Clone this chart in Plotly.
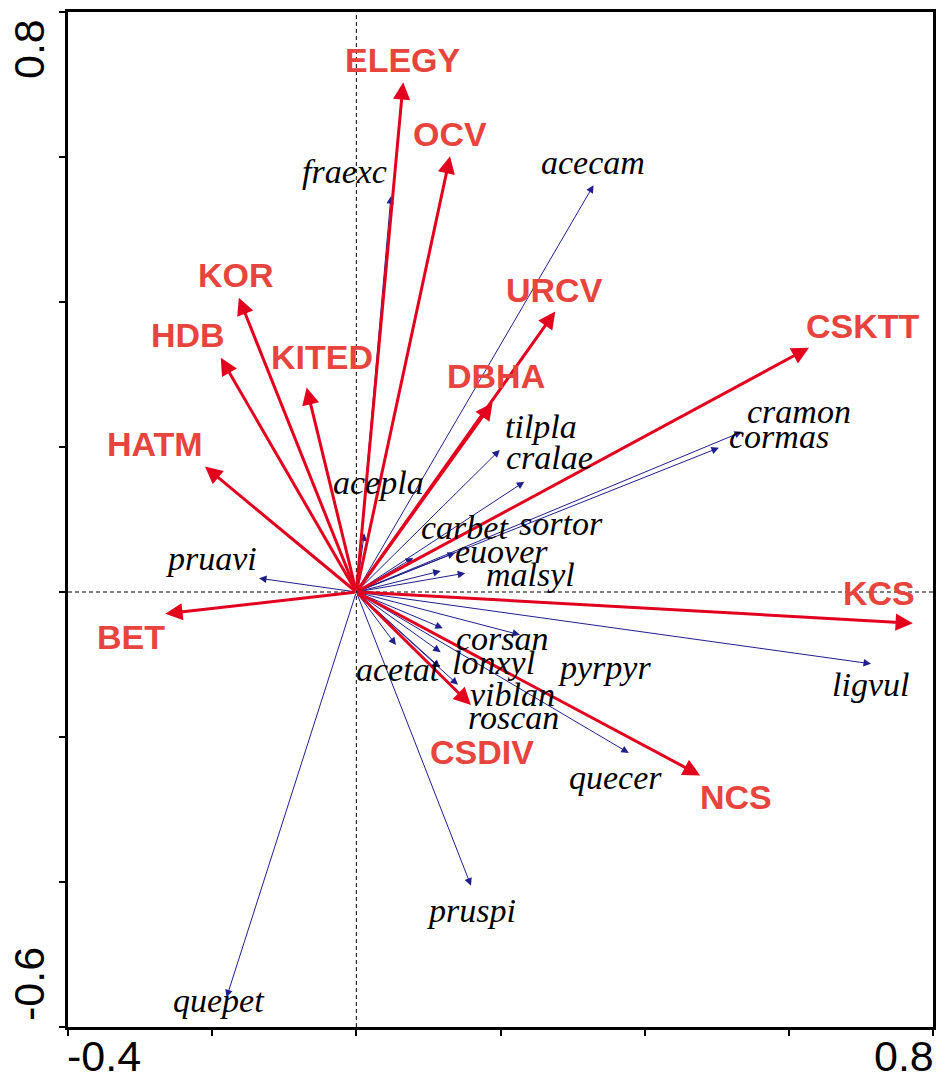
import plotly.graph_objects as go

# ---------------- data ----------------
# Environmental variables (red arrows): ordination scores on axis 1 / axis 2
env_names = ["ELEGY", "OCV", "KOR", "HDB", "KITED", "HATM", "BET",
             "URCV", "DBHA", "CSKTT", "KCS", "CSDIV", "NCS"]
env_x = [0.065, 0.130, -0.163, -0.188, -0.069, -0.210, -0.265,
         0.276, 0.189, 0.628, 0.772, 0.159, 0.477]
env_y = [0.703, 0.601, 0.406, 0.323, 0.282, 0.173, -0.030,
         0.387, 0.261, 0.337, -0.043, -0.156, -0.253]

# Species (blue arrows)
sp_names = ["fraexc", "acecam", "tilpla", "cralae", "cramon", "cormas", "acepla",
            "carbet", "euover", "sortor", "malsyl", "pruavi", "ligvul", "corsan",
            "pyrpyr", "acetat", "lonxyl", "roscan", "viblan", "quecer", "pruspi", "quepet"]
sp_x = [0.048, 0.329, 0.199, 0.233, 0.535, 0.503, 0.011,
        0.079, 0.117, 0.137, 0.151, -0.135, 0.714, 0.120,
        0.227, 0.055, 0.117, 0.116, 0.141, 0.378, 0.159, -0.180]
sp_y = [0.546, 0.561, 0.196, 0.152, 0.221, 0.199, 0.081,
        0.047, 0.029, 0.054, 0.026, 0.019, -0.099, -0.050,
        -0.059, -0.073, -0.083, -0.104, -0.128, -0.222, -0.405, -0.559]

x_ticks = [-0.4, -0.2, 0.0, 0.2, 0.4, 0.6, 0.8]
y_ticks = [-0.6, -0.4, -0.2, 0.0, 0.2, 0.4, 0.6, 0.8]
x_range = [-0.4, 0.8]
y_range = [-0.6, 0.8]

# ---------------- layout / style (label offsets in px from arrow tip) ----------------
env_label_shift = {
    "ELEGY": (0, 22), "OCV": (0, 22), "KOR": (-3, 23), "HDB": (-33, 23),
    "KITED": (15, 31), "HATM": (-50, 23), "BET": (-34, -23), "URCV": (-1, 21),
    "DBHA": (3, 27), "CSKTT": (54, 22), "KCS": (-34, 30), "CSDIV": (11, -47),
    "NCS": (36, -22),
}
sp_label_shift = {
    "fraexc": (-46, 25), "acecam": (0, 23), "tilpla": (41, 23), "cralae": (25, 24),
    "cramon": (57, 20), "cormas": (60, 11), "acepla": (14, 51), "carbet": (52, 30),
    "euover": (61, 19), "sortor": (106, 29), "malsyl": (65, -1), "pruavi": (-48, 20),
    "ligvul": (-1, -21), "corsan": (60, -10), "pyrpyr": (85, -33), "acetat": (3, -25),
    "lonxyl": (53, -10), "roscan": (74, -50), "viblan": (55, -10), "quecer": (-13, -25),
    "pruspi": (1, -25), "quepet": (-8, -3),
}

RED_ARROW = "#E2001E"
RED_TEXT = "#E8443E"
BLUE_ARROW = "#1E1E8C"

fig = go.Figure()
fig.add_trace(go.Scatter(x=[0], y=[0], mode="markers",
                         marker=dict(size=1, color="rgba(0,0,0,0)"),
                         hoverinfo="skip", showlegend=False))

annotations = []
# species arrows (drawn first, beneath)
for n, x, y in zip(sp_names, sp_x, sp_y):
    annotations.append(dict(x=x, y=y, ax=0, ay=0, xref="x", yref="y", axref="x", ayref="y",
                            text="", showarrow=True, arrowhead=2, arrowsize=1.5,
                            arrowwidth=1, arrowcolor=BLUE_ARROW))
# environmental arrows
for n, x, y in zip(env_names, env_x, env_y):
    annotations.append(dict(x=x, y=y, ax=0, ay=0, xref="x", yref="y", axref="x", ayref="y",
                            text="", showarrow=True, arrowhead=2, arrowsize=1.15,
                            arrowwidth=3, arrowcolor=RED_ARROW))
# species labels
for n, x, y in zip(sp_names, sp_x, sp_y):
    dx, dy = sp_label_shift[n]
    annotations.append(dict(x=x, y=y, xref="x", yref="y", text=f"<i>{n}</i>",
                            showarrow=False, xshift=dx, yshift=dy,
                            xanchor="center", yanchor="middle",
                            font=dict(family="Liberation Serif", size=34, color="black")))
# env labels
for n, x, y in zip(env_names, env_x, env_y):
    dx, dy = env_label_shift[n]
    annotations.append(dict(x=x, y=y, xref="x", yref="y", text=f"<b>{n}</b>",
                            showarrow=False, xshift=dx, yshift=dy,
                            xanchor="center", yanchor="middle",
                            font=dict(family="Liberation Sans", size=34, color=RED_TEXT)))

# axis end labels (only the extreme ticks are labelled)
tick_font = dict(family="Liberation Sans", size=43, color="black")
annotations.append(dict(x=x_ticks[0], y=0, xref="x", yref="paper", text=f"{x_ticks[0]:.1f}",
                        showarrow=False, xanchor="left", yanchor="top", yshift=-3, xshift=-3,
                        font=tick_font))
annotations.append(dict(x=x_ticks[-1], y=0, xref="x", yref="paper", text=f"{x_ticks[-1]:.1f}",
                        showarrow=False, xanchor="right", yanchor="top", yshift=-3, xshift=3,
                        font=tick_font))
annotations.append(dict(x=0, y=y_ticks[-1], xref="paper", yref="y", text=f"{y_ticks[-1]:.1f}",
                        showarrow=False, xanchor="center", yanchor="middle", textangle=-90,
                        xshift=-39, yshift=-37, font=tick_font))
annotations.append(dict(x=0, y=y_ticks[0], xref="paper", yref="y", text=f"{y_ticks[0]:.1f}",
                        showarrow=False, xanchor="center", yanchor="middle", textangle=-90,
                        xshift=-39, yshift=43, font=tick_font))

shapes = [
    dict(type="line", xref="x", yref="paper", x0=0, x1=0, y0=0, y1=1,
         line=dict(color="black", width=1, dash="4px,3px"), layer="below"),
    dict(type="line", xref="paper", yref="y", x0=0, x1=1, y0=0, y1=0,
         line=dict(color="black", width=1, dash="4px,3px"), layer="below"),
]

axis_common = dict(showgrid=False, zeroline=False, showline=True, linecolor="black",
                   linewidth=2.5, mirror=True, ticks="outside", ticklen=6, tickwidth=2,
                   tickcolor="black", showticklabels=False)

fig.update_layout(
    width=937, height=1082,
    margin=dict(l=68, r=1, t=12, b=55),
    paper_bgcolor="white", plot_bgcolor="white",
    xaxis=dict(range=x_range, tickvals=x_ticks, **axis_common),
    yaxis=dict(range=y_range, tickvals=y_ticks, **axis_common),
    annotations=annotations, shapes=shapes,
    showlegend=False,
)

# remove the default 8px page margin so the figure fills the window exactly
fig.write_html("out.html",
               config={"displayModeBar": False},
               post_script="document.body.style.margin='0';document.body.style.overflow='hidden';")
